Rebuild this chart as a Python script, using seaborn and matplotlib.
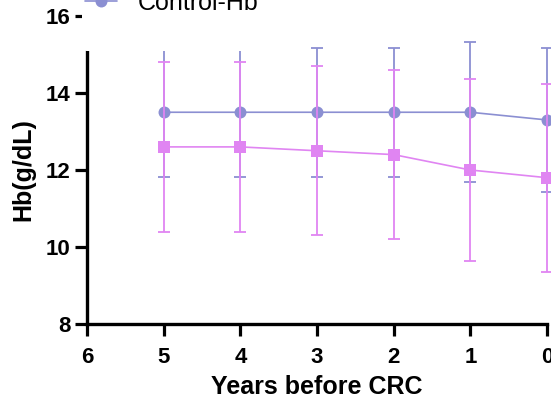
import matplotlib
matplotlib.use("Agg")
import matplotlib.pyplot as plt
from matplotlib.lines import Line2D
import numpy as np
import pandas as pd
import seaborn as sns

# Hemoglobin (mean ± SD) in the years leading up to CRC diagnosis
years = [5, 4, 3, 2, 1, 0]
crc_mean = [12.6, 12.6, 12.5, 12.4, 12.0, 11.8]
crc_sd = [2.2, 2.2, 2.2, 2.2, 2.36, 2.44]
ctrl_mean = [13.5, 13.5, 13.5, 13.5, 13.5, 13.3]
ctrl_sd = [1.68, 1.68, 1.68, 1.68, 1.82, 1.88]
x_ticks = [6, 5, 4, 3, 2, 1, 0]
y_ticks = [8, 10, 12, 14, 16]

series = ["CRC-Hb", "Control-Hb"]
colors = {"CRC-Hb": "#e085f2", "Control-Hb": "#8b8fd2"}
markers = {"CRC-Hb": "s", "Control-Hb": "o"}

df = pd.concat([
    pd.DataFrame({"year": years, "hb": ctrl_mean, "sd": ctrl_sd, "group": "Control-Hb"}),
    pd.DataFrame({"year": years, "hb": crc_mean, "sd": crc_sd, "group": "CRC-Hb"}),
], ignore_index=True)

sns.set_theme(style="ticks")
plt.rcParams["font.family"] = ["Liberation Sans", "DejaVu Sans"]
for key in ["text.color", "axes.labelcolor", "xtick.color", "ytick.color",
            "xtick.labelcolor", "ytick.labelcolor"]:
    plt.rcParams[key] = "black"

fig = plt.figure(figsize=(5.51, 4.01), dpi=100)
ax = fig.add_axes([87 / 551, 1 - 324 / 401, 460 / 551, 308 / 401])

# Control drawn first, CRC bars and markers on top
z = {"Control-Hb": 3, "CRC-Hb": 4}
for g in ["Control-Hb", "CRC-Hb"]:
    sub = df[df["group"] == g]
    ax.errorbar(sub["year"], sub["hb"], yerr=sub["sd"], fmt="none",
                ecolor=colors[g], elinewidth=1.3, capsize=4.3, capthick=1.3,
                zorder=z[g], clip_on=False)
    sns.lineplot(data=sub, x="year", y="hb", color=colors[g], marker=markers[g],
                 markersize=8.6, markeredgewidth=0, linewidth=1.2, ax=ax,
                 zorder=z[g] + 0.5, clip_on=False, legend=False)

ax.set_xlim(6, 0)
ax.set_ylim(8, 16)
ax.set_xticks(x_ticks)
ax.set_yticks(y_ticks)
ax.set_xticklabels([str(t) for t in x_ticks], fontsize=16, fontweight="bold")
ax.set_yticklabels([str(t) for t in y_ticks], fontsize=16, fontweight="bold")
ax.tick_params(axis="both", length=8.5, width=2.3, color="black", pad=3.5)
ax.tick_params(axis="x", pad=8)
for s in ["top", "right"]:
    ax.spines[s].set_visible(False)
for s in ["left", "bottom"]:
    ax.spines[s].set_linewidth(2.4)
    ax.spines[s].set_color("black")

ax.set_xlabel("Years before CRC", fontsize=18, fontweight="bold", labelpad=5)
ax.set_ylabel("Hb(g/dL)", fontsize=18, fontweight="bold", labelpad=7)

handles = [
    Line2D([], [], color=colors[g], marker=markers[g], markersize=8.6,
           markeredgewidth=0, linewidth=1.2)
    for g in series
]
handles.append(Line2D([], [], linestyle="none"))
leg = ax.legend(handles, series + [" "], loc="lower left",
                bbox_to_anchor=(-0.01, 0.885), fontsize=18, frameon=True,
                facecolor="white", edgecolor="none", framealpha=1,
                borderpad=0.1, labelspacing=0.4, handlelength=1.3,
                handletextpad=0.8, borderaxespad=0)
leg.set_zorder(10)

fig.savefig("out.png", dpi=100)
